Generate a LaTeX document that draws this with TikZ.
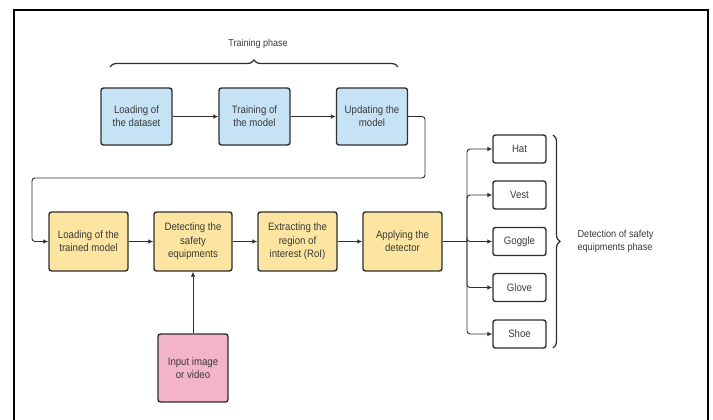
\documentclass[tikz,border=0pt]{standalone}
\usepackage{fontspec}
\setmainfont{Liberation Sans}[FakeStretch=0.9]
\usetikzlibrary{arrows.meta,decorations.pathreplacing}
\definecolor{trainblue}{HTML}{C6E3F5}
\definecolor{detyellow}{HTML}{FCE5A0}
\definecolor{inpink}{HTML}{F3B3C9}
\definecolor{edgegray}{HTML}{2E2E2E}
\definecolor{txtgray}{HTML}{3A3A3A}

\begin{document}
\begin{tikzpicture}
[
    x=1pt, y=-1pt,
    font=\fontsize{10.7}{13.3}\selectfont,
    box/.style={draw=edgegray, line width=1.4pt, rounded corners=2.5pt,
        align=center, text=txtgray, inner sep=0pt},
    trainbox/.style={box, fill=trainblue, minimum width=71pt, minimum height=57pt},
    detbox/.style={box, fill=detyellow, minimum width=79pt, minimum height=59pt},
    inbox/.style={box, fill=inpink, minimum width=70pt, minimum height=68pt},
    itembox/.style={box, fill=white, minimum width=53pt, minimum height=28pt},
    arr/.style={draw=edgegray, line width=0.9pt, -{Latex[length=5pt,width=4.5pt]}},
    phasebrace/.style={draw=edgegray, line width=1.2pt,
        decorate, decoration={brace, amplitude=7pt}},
]
\useasboundingbox (0,0) rectangle (713,420);
\draw[line width=2pt] (14.3,420) -- (14.3,10.3) -- (708.3,10.3) -- (708.3,420);

% training phase
\node[text=txtgray, font=\fontsize{10}{12}\selectfont] (trainlabel) at (258,44) {Training phase};
\draw[phasebrace] (110,67) -- (398,67);
\node[trainbox] (dataset) at (136.5,116.5) {Loading of\\the dataset};
\node[trainbox] (training) at (254.5,116.5) {Training of\\the model};
\node[trainbox] (updating) at (372,116.5) {Updating the\\model};
\draw[arr] (dataset) -- (training);
\draw[arr] (training) -- (updating);

% detection phase
\node[detbox] (loadtrained) at (88.5,241.5) {Loading of the\\trained model};
\node[detbox, minimum width=78pt] (detecting) at (193,241.5) {Detecting the\\safety\\equipments};
\node[detbox] (extracting) at (297.5,241.5) {Extracting the\\region of\\interest (RoI)};
\node[detbox] (applying) at (402.5,241.5) {Applying the\\detector};
\node[inbox] (input) at (193,368) {Input image\\or video};

\draw[arr, rounded corners=3pt] (updating.east) -- (425,116.5) -- (425,178)
    -- (32,178) -- (32,241.5) -- (loadtrained.west);
\draw[arr] (loadtrained) -- (detecting);
\draw[arr] (detecting) -- (extracting);
\draw[arr] (extracting) -- (applying);
\draw[arr] (input) -- (detecting);

% equipments
\node[itembox] (hat) at (519.5,149) {Hat};
\node[itembox] (vest) at (519.5,195) {Vest};
\node[itembox] (goggle) at (519.5,241.5) {Goggle};
\node[itembox] (glove) at (519.5,287.5) {Glove};
\node[itembox] (shoe) at (519.5,334) {Shoe};
\coordinate (split) at (467,241.5);
\draw[edgegray, line width=0.9pt] (applying.east) -- (split);
\foreach \item in {hat,vest,goggle,glove,shoe}
    \draw[arr, rounded corners=3pt] (split) |- (\item.west);

\draw[phasebrace] (553,135) -- (553,348);
\node[text=txtgray, align=left, anchor=west, font=\fontsize{10.2}{13}\selectfont]
    (detlabel) at (574,241.5) {Detection of safety\\equipments phase};
\end{tikzpicture}
\end{document}
